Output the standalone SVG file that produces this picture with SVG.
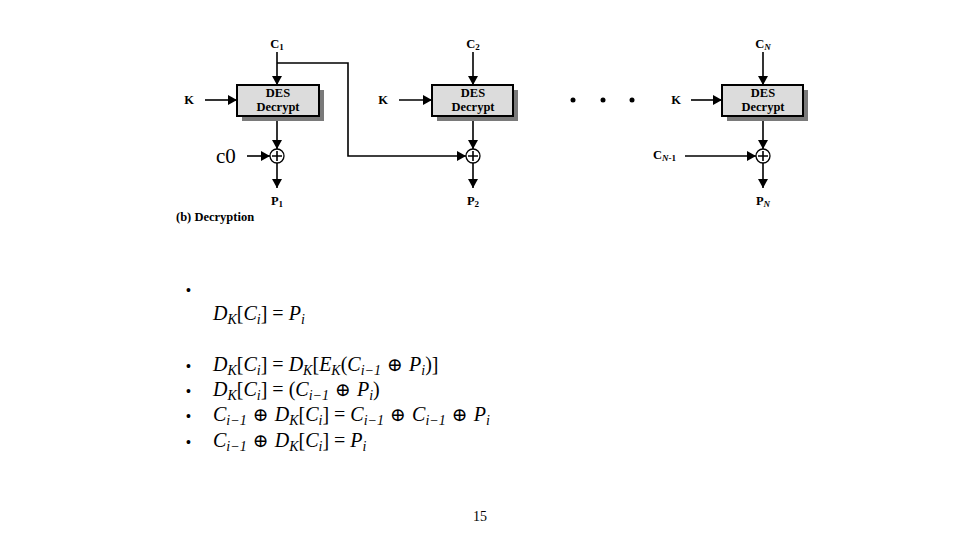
<svg xmlns="http://www.w3.org/2000/svg" width="960" height="540" viewBox="0 0 960 540">
<style>
.lbl{font-family:"Liberation Serif",serif;font-weight:bold;font-size:12.5px;fill:#000}
.sub{font-size:9px}
.box{fill:#dcdcdc;stroke:#000;stroke-width:2}
.shadow{fill:#7a7a7a}
.xor{fill:#fff;stroke:#000;stroke-width:1.3}
.ln{fill:none;stroke:#000;stroke-width:1.6}
.math{font-family:"Liberation Serif","DejaVu Serif",serif;font-style:italic;font-size:20px;fill:#000}
.s{font-size:14px}
.up{font-style:normal}
.op{font-style:normal;font-family:"DejaVu Serif",serif;font-size:19px}
.bul{font-family:"Liberation Sans",sans-serif;font-size:14px;fill:#000}
</style>
<defs>
<marker id="ah" markerUnits="userSpaceOnUse" markerWidth="10" markerHeight="10" refX="9" refY="5" orient="auto">
<path d="M0,0 L9,5 L0,10 Z" fill="#000"/>
</marker>
</defs>

<g id="connectors">
<line class="ln" x1="277" y1="52" x2="277" y2="85" marker-end="url(#ah)"/>
<line class="ln" x1="205" y1="100" x2="237" y2="100" marker-end="url(#ah)"/>
<line class="ln" x1="277" y1="117" x2="277" y2="149" marker-end="url(#ah)"/>
<line class="ln" x1="247" y1="156" x2="270" y2="156" marker-end="url(#ah)"/>
<line class="ln" x1="277" y1="163" x2="277" y2="188" marker-end="url(#ah)"/>
<polyline class="ln" points="277,63 348,63 348,156 466,156" marker-end="url(#ah)"/>
<line class="ln" x1="473" y1="52" x2="473" y2="85" marker-end="url(#ah)"/>
<line class="ln" x1="399" y1="100" x2="432" y2="100" marker-end="url(#ah)"/>
<line class="ln" x1="473" y1="117" x2="473" y2="149" marker-end="url(#ah)"/>
<line class="ln" x1="473" y1="163" x2="473" y2="188" marker-end="url(#ah)"/>
<line class="ln" x1="763" y1="52" x2="763" y2="85" marker-end="url(#ah)"/>
<line class="ln" x1="691" y1="100" x2="722" y2="100" marker-end="url(#ah)"/>
<line class="ln" x1="763" y1="117" x2="763" y2="149" marker-end="url(#ah)"/>
<line class="ln" x1="685" y1="156" x2="756" y2="156" marker-end="url(#ah)"/>
<line class="ln" x1="763" y1="163" x2="763" y2="188" marker-end="url(#ah)"/>
</g>

<g id="des1">
<rect class="shadow" x="242" y="90" width="82" height="31"/>
<rect class="box" x="237" y="85" width="82" height="31"/>
<text class="lbl" x="278" y="97" text-anchor="middle">DES</text>
<text class="lbl" x="278" y="111" text-anchor="middle">Decrypt</text>
</g>
<g id="des2">
<rect class="shadow" x="437" y="90" width="81" height="31"/>
<rect class="box" x="432" y="85" width="81" height="31"/>
<text class="lbl" x="473" y="97" text-anchor="middle">DES</text>
<text class="lbl" x="473" y="111" text-anchor="middle">Decrypt</text>
</g>
<g id="desN">
<rect class="shadow" x="727" y="90" width="81" height="31"/>
<rect class="box" x="722" y="85" width="81" height="31"/>
<text class="lbl" x="763" y="97" text-anchor="middle">DES</text>
<text class="lbl" x="763" y="111" text-anchor="middle">Decrypt</text>
</g>

<g id="xor1"><circle class="xor" cx="277" cy="156" r="7"/><path class="ln" stroke-width="1.3" d="M272,156 H282 M277,151 V161"/></g>
<g id="xor2"><circle class="xor" cx="473" cy="156" r="7"/><path class="ln" stroke-width="1.3" d="M468,156 H478 M473,151 V161"/></g>
<g id="xorN"><circle class="xor" cx="763" cy="156" r="7"/><path class="ln" stroke-width="1.3" d="M758,156 H768 M763,151 V161"/></g>

<g id="labels">
<text class="lbl" x="277" y="48" text-anchor="middle">C<tspan class="sub" dy="2">1</tspan></text>
<text class="lbl" x="473" y="48" text-anchor="middle">C<tspan class="sub" dy="2">2</tspan></text>
<text class="lbl" x="763" y="48" text-anchor="middle">C<tspan class="sub" dy="2" font-style="italic">N</tspan></text>
<text class="lbl" x="189" y="104" text-anchor="middle">K</text>
<text class="lbl" x="383" y="104" text-anchor="middle">K</text>
<text class="lbl" x="676" y="104" text-anchor="middle">K</text>
<text x="216" y="163" font-family="Liberation Serif,serif" font-size="21">c0</text>
<text class="lbl" x="653" y="159">C<tspan class="sub" dy="2"><tspan font-style="italic">N</tspan>-1</tspan></text>
<text class="lbl" x="277" y="205" text-anchor="middle">P<tspan class="sub" dy="2">1</tspan></text>
<text class="lbl" x="473" y="205" text-anchor="middle">P<tspan class="sub" dy="2">2</tspan></text>
<text class="lbl" x="763" y="205" text-anchor="middle">P<tspan class="sub" dy="2" font-style="italic">N</tspan></text>
<text class="lbl" x="176" y="221">(b) Decryption</text>
<circle cx="573" cy="100" r="2.5" fill="#000"/>
<circle cx="603" cy="100" r="2.5" fill="#000"/>
<circle cx="632" cy="100" r="2.5" fill="#000"/>
</g>

<g id="equations">
<text class="bul" x="186" y="295">•</text>
<text class="math" x="213" y="320">D<tspan class="s" dy="4">K</tspan><tspan class="up" dy="-4">[</tspan>C<tspan class="s" dy="4">i</tspan><tspan class="up" dy="-4">] = </tspan>P<tspan class="s" dy="4">i</tspan></text>

<text class="bul" x="186" y="371">•</text>
<text class="math" x="213" y="371">D<tspan class="s" dy="4">K</tspan><tspan class="up" dy="-4">[</tspan>C<tspan class="s" dy="4">i</tspan><tspan class="up" dy="-4">] = </tspan>D<tspan class="s" dy="4">K</tspan><tspan class="up" dy="-4">[</tspan>E<tspan class="s" dy="4">K</tspan><tspan class="up" dy="-4">(</tspan>C<tspan class="s" dy="4">i−1</tspan><tspan class="op" dy="-4"> ⊕ </tspan>P<tspan class="s" dy="4">i</tspan><tspan class="up" dy="-4">)]</tspan></text>

<text class="bul" x="186" y="396">•</text>
<text class="math" x="213" y="396">D<tspan class="s" dy="4">K</tspan><tspan class="up" dy="-4">[</tspan>C<tspan class="s" dy="4">i</tspan><tspan class="up" dy="-4">] = (</tspan>C<tspan class="s" dy="4">i−1</tspan><tspan class="op" dy="-4"> ⊕ </tspan>P<tspan class="s" dy="4">i</tspan><tspan class="up" dy="-4">)</tspan></text>

<text class="bul" x="186" y="421">•</text>
<text class="math" x="213" y="421">C<tspan class="s" dy="4">i−1</tspan><tspan class="op" dy="-4"> ⊕ </tspan>D<tspan class="s" dy="4">K</tspan><tspan class="up" dy="-4">[</tspan>C<tspan class="s" dy="4">i</tspan><tspan class="up" dy="-4">] = </tspan>C<tspan class="s" dy="4">i−1</tspan><tspan class="op" dy="-4"> ⊕ </tspan>C<tspan class="s" dy="4">i−1</tspan><tspan class="op" dy="-4"> ⊕ </tspan>P<tspan class="s" dy="4">i</tspan></text>

<text class="bul" x="186" y="447">•</text>
<text class="math" x="213" y="447">C<tspan class="s" dy="4">i−1</tspan><tspan class="op" dy="-4"> ⊕ </tspan>D<tspan class="s" dy="4">K</tspan><tspan class="up" dy="-4">[</tspan>C<tspan class="s" dy="4">i</tspan><tspan class="up" dy="-4">] = </tspan>P<tspan class="s" dy="4">i</tspan></text>
</g>

<text id="page" x="480" y="521" text-anchor="middle" font-family="Liberation Serif,serif" font-size="14">15</text>
</svg>
